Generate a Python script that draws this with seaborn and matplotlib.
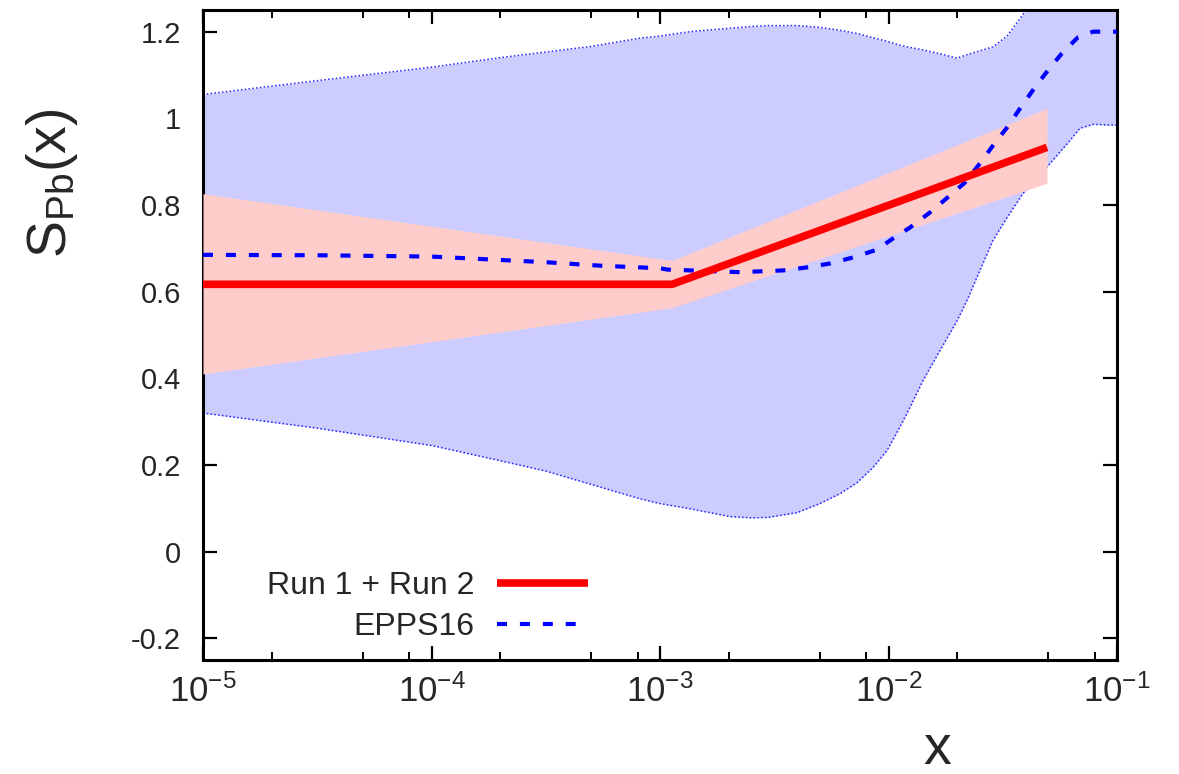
import numpy as np
import pandas as pd
import matplotlib
matplotlib.use("Agg")
import matplotlib.pyplot as plt
import seaborn as sns
from matplotlib.ticker import LogLocator, FixedLocator, FixedFormatter, NullFormatter

# ---------------- data ----------------
# EPPS16 uncertainty band (log10 x grid)
band_log10x = [-5, -4.5, -4, -3.7, -3.5, -3.3, -3.088, -3.0, -2.869, -2.694, -2.6, -2.527,
               -2.4, -2.3, -2.212, -2.138, -2.068, -2.007, -1.958, -1.919, -1.849, -1.775,
               -1.700, -1.656, -1.60, -1.543, -1.481, -1.411, -1.359, -1.293, -1.22, -1.162,
               -1.105, -1.0]
band_upper = [1.055, 1.087, 1.118, 1.14, 1.153, 1.166, 1.185, 1.19, 1.20, 1.208, 1.212, 1.214,
              1.214, 1.21, 1.203, 1.196, 1.186, 1.178, 1.17, 1.165, 1.158, 1.149,
              1.139, 1.147, 1.156, 1.165, 1.19, 1.24, 1.28, 1.33, 1.37, 1.39,
              1.40, 1.42]
band_lower = [0.32, 0.285, 0.245, 0.21, 0.186, 0.155, 0.122, 0.111, 0.099, 0.081, 0.078, 0.079,
              0.09, 0.111, 0.134, 0.159, 0.194, 0.233, 0.28, 0.319, 0.395, 0.464,
              0.533, 0.58, 0.649, 0.718, 0.771, 0.827, 0.852, 0.896, 0.94, 0.977,
              0.986, 0.984]

# EPPS16 central curve
epps_log10x = [-5, -4.5, -4, -3.5, -3.263, -3, -2.969, -2.65, -2.462, -2.357, -2.256, -2.155,
               -2.05, -1.98, -1.906, -1.818, -1.74, -1.665, -1.60, -1.543, -1.481, -1.424,
               -1.368, -1.302, -1.241, -1.171, -1.105, -1.0]
epps_val = [0.685, 0.684, 0.681, 0.668, 0.66, 0.654, 0.651, 0.645, 0.649, 0.656, 0.665, 0.679,
            0.697, 0.723, 0.748, 0.783, 0.818, 0.852, 0.896, 0.937, 0.979, 1.023, 1.065,
            1.111, 1.15, 1.187, 1.2, 1.2]

# Run 1 + Run 2 result
run_x = [1e-5, 1.13e-3, 4.94e-2]
run_val = [0.617, 0.617, 0.933]
run_lower = [0.41, 0.563, 0.85]
run_upper = [0.826, 0.672, 1.023]

xtick_vals = [1e-5, 1e-4, 1e-3, 1e-2, 1e-1]
xtick_labels = [r"$\mathregular{10^{-5}}$", r"$\mathregular{10^{-4}}$", r"$\mathregular{10^{-3}}$",
                r"$\mathregular{10^{-2}}$", r"$\mathregular{10^{-1}}$"]
ytick_vals = [-0.2, 0, 0.2, 0.4, 0.6, 0.8, 1.0, 1.2]
ytick_labels = ["-0.2", "0", "0.2", "0.4", "0.6", "0.8", "1", "1.2"]

# ---------------- style ----------------
sns.set_theme(style="ticks")
plt.rcParams["font.family"] = ["Liberation Sans", "DejaVu Sans"]
plt.rcParams["axes.unicode_minus"] = False
plt.rcParams["mathtext.fontset"] = "custom"
plt.rcParams["mathtext.rm"] = "Liberation Sans"

fig = plt.figure(figsize=(11.79, 7.74), dpi=100)
ax = fig.add_axes([203 / 1179, 1 - 660 / 774, (1117 - 203) / 1179, (660 - 10) / 774])

band_x = [10 ** v for v in band_log10x]
epps_x = [10 ** v for v in epps_log10x]

ax.fill_between(band_x, band_lower, band_upper, color="#ccccff", lw=0, zorder=1)
ax.plot(band_x, band_upper, color="#2222ff", lw=1.1, ls=(0, (1, 1.5)), zorder=2)
ax.plot(band_x, band_lower, color="#2222ff", lw=1.1, ls=(0, (1, 1.5)), zorder=2)

ax.fill_between(run_x, run_lower, run_upper, color="#ffcccc", lw=0, zorder=3)

df_run = pd.DataFrame({"x": run_x, "S": run_val})
df_epps = pd.DataFrame({"x": epps_x, "S": epps_val})
sns.lineplot(data=df_run, x="x", y="S", ax=ax, color="#ff0000", lw=5.5,
             label="Run 1 + Run 2", zorder=5, solid_capstyle="butt")
sns.lineplot(data=df_epps, x="x", y="S", ax=ax, color="#0000ff", lw=3,
             linestyle=(0, (2.4, 3.1)), label="EPPS16", zorder=4)

ax.set_xscale("log")
ax.set_xlim(1e-5, 1e-1)
ax.set_ylim(-0.25, 1.25)

ax.xaxis.set_major_locator(FixedLocator(xtick_vals))
ax.xaxis.set_major_formatter(FixedFormatter(xtick_labels))
ax.xaxis.set_minor_locator(LogLocator(base=10, subs=[2, 5, 8]))
ax.xaxis.set_minor_formatter(NullFormatter())
ax.yaxis.set_major_locator(FixedLocator(ytick_vals))
ax.yaxis.set_major_formatter(FixedFormatter(ytick_labels))

ax.tick_params(which="both", direction="in", top=True, right=True, color="black")
ax.tick_params(which="major", length=10, width=1.6)
ax.tick_params(which="minor", length=5.5, width=1.4)
ax.tick_params(axis="y", labelsize=21, pad=16)
ax.tick_params(axis="x", labelsize=25, pad=10)

for s in ax.spines.values():
    s.set_linewidth(2.2)
    s.set_color("black")

ax.set_xlabel("")
ax.set_ylabel("")
fig.text(52 / 1179, 1 - 183 / 774, r"$\mathregular{S_{Pb}(x)}$", rotation=90,
         ha="center", va="center", fontsize=40)
fig.text(937 / 1179, 1 - 750 / 774, "x", ha="center", va="center", fontsize=40)

leg = ax.legend(loc="upper right", bbox_to_anchor=(0.421, 0.137), frameon=False,
                markerfirst=False, fontsize=23, handlelength=2.85, handletextpad=0.69,
                labelspacing=0.35, borderpad=0, borderaxespad=0)

fig.savefig("out.png", dpi=100)
